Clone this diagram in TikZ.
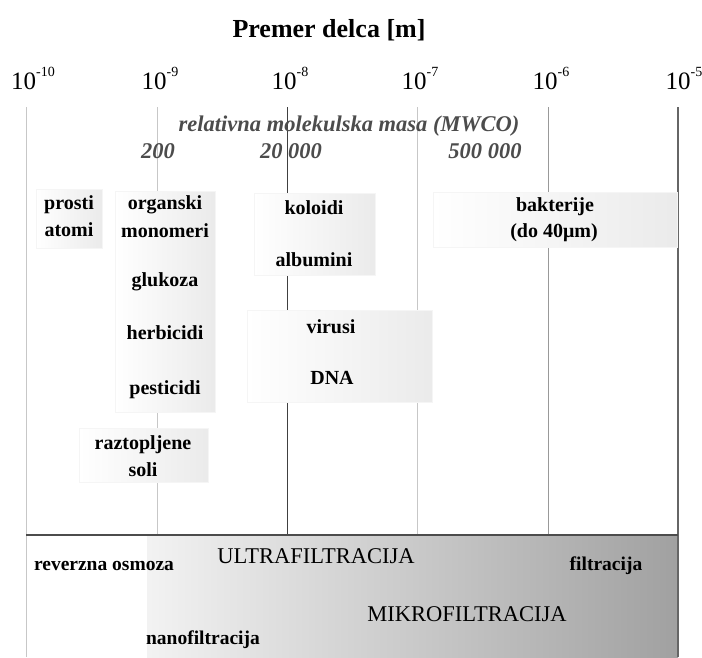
\documentclass[tikz,border=0pt]{standalone}
\usepackage{fontspec}
\setmainfont{Liberation Serif}
\usepackage{tikz}
\usetikzlibrary{positioning}

\newcommand{\tenpow}[1]{10\raisebox{0.5em}{\fontsize{14}{14}\selectfont #1}}

\begin{document}
\begin{tikzpicture}[x=1pt, y=-1pt, every node/.style={inner sep=0pt},
    tick/.style={font=\fontsize{25}{25}\selectfont, anchor=base},
    mass/.style={font=\bfseries\itshape\fontsize{22.5}{22.5}\selectfont, text=black!70, anchor=base},
    item/.style={font=\bfseries\fontsize{20}{20}\selectfont},
    band/.style={left color=white, right color=black!8, draw=black!4, line width=0.6pt},
    method/.style={font=\bfseries\fontsize{19.5}{19.5}\selectfont, anchor=base},
    process/.style={font=\fontsize{22.5}{22.5}\selectfont, anchor=base},
    thinline/.style={line width=0.9pt, black!22}]
        \useasboundingbox (0,0) rectangle (702,657);

        % spodnji pas: postopki
        \fill[left color=black!5, right color=black!37] (147,535) rectangle (678,657);

        % navpicne crte lestvice
        \draw[thinline] (26,107) -- (26,657);
        \draw[thinline] (157,107) -- (157,535);
        \draw[line width=0.9pt, black!75] (287,107) -- (287,535);
        \draw[thinline] (417,107) -- (417,535);
        \draw[line width=0.9pt, black!40] (548,107) -- (548,535);
        \draw[line width=1.6pt, black!60] (678,107) -- (678,657);
        \draw[line width=1.6pt, black!70] (26,535) -- (678,535);

        % naslov in lestvica
        \node (title) [font=\bfseries\fontsize{26}{26}\selectfont, anchor=base] at (329,37) {Premer delca [m]};
        \node (p10) [tick] at (33,89) {\tenpow{-10}};
        \node (p9) [tick] at (160,89) {\tenpow{-9}};
        \node (p8) [tick] at (290,89) {\tenpow{-8}};
        \node (p7) [tick] at (420,89) {\tenpow{-7}};
        \node (p6) [tick] at (551,89) {\tenpow{-6}};
        \node (p5) [tick] at (684,89) {\tenpow{-5}};

        \node (mwco) [mass] at (349,131) {relativna molekulska masa (MWCO)};
        \node (m200) [mass] at (158,158) {200};
        \node (m20k) [mass] at (291,158) {20 000};
        \node (m500k) [mass] at (485,158) {500 000};

        % okvirji
        \node (atomsbox) [band, minimum width=66pt, minimum height=59pt] at (69,218.5) {};
        \node (organicbox) [band, minimum width=100pt, minimum height=221pt] at (165,301.5) {};
        \node (saltsbox) [band, minimum width=129pt, minimum height=54pt] at (143.5,455) {};
        \node (colloidbox) [band, minimum width=121pt, minimum height=82pt] at (314.5,234) {};
        \node (virusbox) [band, minimum width=185pt, minimum height=92pt] at (339.5,356) {};
        \node (bacteriabox) [band, minimum width=244pt, minimum height=55pt] at (555,219.5) {};

        \node (prosti) [item] at (69,205) {prosti};
        \node (atomi) [item] at (69,230) {atomi};
        \node (organski) [item] at (165,205) {organski};
        \node (monomeri) [item] at (165,231) {monomeri};
        \node (glukoza) [item] at (165,282) {glukoza};
        \node (herbicidi) [item] at (165,333) {herbicidi};
        \node (pesticidi) [item] at (165,390) {pesticidi};
        \node (raztopljene) [item] at (143,445) {raztopljene};
        \node (soli) [item] at (143,470) {soli};
        \node (koloidi) [item] at (314,208) {koloidi};
        \node (albumini) [item] at (314,260) {albumini};
        \node (virusi) [item] at (331,327) {virusi};
        \node (dna) [item] at (332,378) {DNA};
        \node (bakterije) [item] at (555,207) {bakterije};
        \node (do40) [item] at (554,233) {(do 40μm)};

        % postopki
        \node (ro) [method] at (104,570) {reverzna osmoza};
        \node (uf) [process] at (316,563) {ULTRAFILTRACIJA};
        \node (filt) [method] at (606,570) {filtracija};
        \node (mf) [process] at (467,621) {MIKROFILTRACIJA};
        \node (nf) [method] at (203,644) {nanofiltracija};
    \end{tikzpicture}
\end{document}
